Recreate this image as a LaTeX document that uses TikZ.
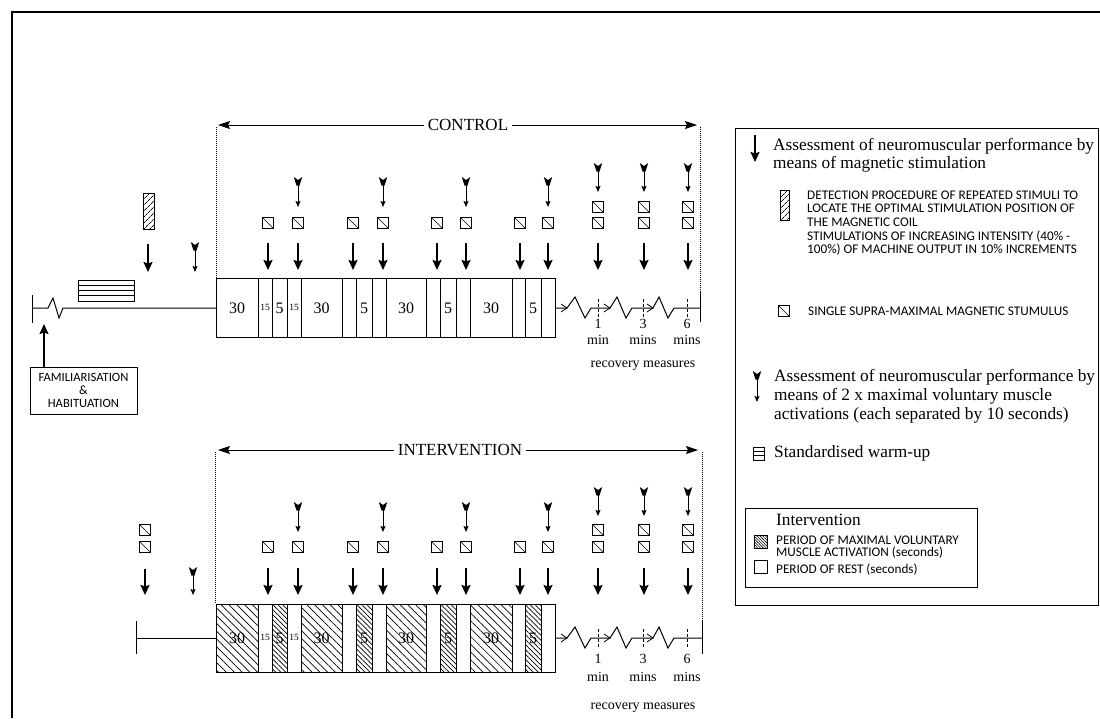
\documentclass[tikz,border=0pt]{standalone}
\usepackage{fontspec}
\setmainfont{Liberation Serif}
\newfontfamily\capsf{Carlito}
\usetikzlibrary{arrows.meta,patterns.meta}
\newcommand\Mbig[3]{\draw[bigarr] (#1,#2) -- (#1,#3);}
\newcommand\Mmvc[3]{\fill (#1-4.2,#2) -- (#1,#2+3) -- (#1+4.2,#2) -- (#1+1.5,#2+8.5) -- (#1-1.5,#2+8.5) -- cycle;
  \draw[mvcarr] (#1,#2+8) -- (#1,#3);}
\newcommand\Msq[2]{\draw[sqst] (#1-5.5,#2-5.5) rectangle (#1+5.5,#2+5.5);
  \draw[line width=0.6pt] (#1-5.5,#2-5.5) -- (#1+5.5,#2+5.5);}
\newcommand\Mrecov[4]{%
  \draw[tl] (555,#1) -- (567,#1) -- (575,#1-11) -- (585,#1+10) -- (591,#1) -- (610,#1) -- (617,#1-11) -- (626,#1+10) -- (632,#1) -- (653,#1) -- (659,#1-11) -- (668,#1+10) -- (674,#1) -- (#2,#1);
  \foreach \z in {567,610,653} \draw[line width=0.8pt] (\z-6,#1-4) -- (\z,#1) -- (\z-6,#1+4);
  \foreach \z in {598,643,687} \draw[line width=0.6pt,densely dashed] (\z,#1-9) -- (\z,#1+9);
  \draw[tl] (#2,#3) -- (#2,#4);}
\begin{document}
\begin{tikzpicture}[x=1pt,y=-1pt,
  bigarr/.style={line width=1.7pt,-{Stealth[length=10pt,width=9pt,inset=1.5pt]}},
  mvcarr/.style={line width=0.8pt,-{Stealth[length=6pt,width=5pt,inset=1pt]}},
  hdarr/.style={line width=0.9pt,-{Stealth[length=12pt,width=8pt,inset=2pt]}},
  sqst/.style={line width=0.9pt},
  tl/.style={line width=1pt},
  dotl/.style={line width=1pt,densely dotted},
  ttl/.style={font=\fontsize{17}{18}\selectfont,fill=white,inner xsep=4pt,inner ysep=1pt},
  num/.style={font=\fontsize{16}{16}\selectfont,inner sep=0pt},
  smallnum/.style={font=\fontsize{9.5}{10}\selectfont,inner sep=0pt},
  rec/.style={font=\fontsize{14}{14}\selectfont,inner sep=0pt,anchor=base},
  leg/.style={font=\fontsize{17.3}{18}\selectfont,inner sep=0pt,anchor=base west},
  caps/.style={font=\capsf\fontsize{13.2}{13}\selectfont,inner sep=0pt,anchor=base west},
  act/.style={pattern={Lines[angle=-45,distance=5.5pt,line width=0.7pt]}},
  actd/.style={pattern={Lines[angle=-45,distance=3.5pt,line width=0.7pt]}},
  probe/.style={pattern={Lines[angle=45,distance=4pt,line width=0.8pt]}},
]
\useasboundingbox (0,0) rectangle (1100,718);
% outer frame
\draw[line width=1.2pt] (12,718) -- (12,12) -- (1100,12);

% ================= CONTROL =================
\node[ttl] (ctrl) at (468,125) {CONTROL};
\draw[hdarr] (ctrl.west) -- (218,125);
\draw[hdarr] (ctrl.east) -- (697,125);
\draw[dotl] (216,127) -- (216,278);
\draw[dotl] (700,127) -- (700,292);

% pre-control
\draw[tl] (32,295) -- (32,323);
\draw[tl] (32,308) -- (48,308) -- (53,298) -- (59,318) -- (63,308) -- (216,308);
\draw[tl] (78,280) rectangle (134,301);
\foreach \yy in {285.25,290.5,295.75} \draw[line width=0.8pt] (78,\yy) -- (134,\yy);
\path[probe] (143,193) rectangle (154,229);
\draw[line width=0.9pt] (143,193) rectangle (154,229);
\Mbig{148}{244}{272}
\Mmvc{195}{242}{272}
\node[draw,line width=0.9pt,minimum width=107pt,minimum height=47pt,inner sep=0pt,align=center,
  font=\capsf\fontsize{12.6}{12.7}\selectfont] (fam) at (83.5,390.5) {FAMILIARISATION\\\&\\HABITUATION};
\coordinate (famtip) at (44,324);
\draw[bigarr] (fam.north -| famtip) -- (famtip);

% control box
\node[draw,tl,minimum width=339pt,minimum height=59pt,inner sep=0pt,anchor=north west] (cbox) at (216,278) {};
\foreach \x in {258,272,287,301,342,356,372,386,426,440,456,470,512,525,541} \draw[tl] (\x,278) -- (\x,337);
\foreach \x/\t [count=\i] in {237/30,321.5/30,406/30,491/30,279.5/5,364/5,448/5,533/5} \node[num] (cl\i) at (\x,308) {\t};
\foreach \x [count=\i] in {265,294} \node[smallnum] (cs\i) at (\x,307) {15};

% control markers
\foreach \x in {268,298,353,383,437,466,520,548} {\Msq{\x}{223} \Mbig{\x}{243}{270}}
\foreach \x in {298,383,466,548} {\Mmvc{\x}{177}{207}}
\foreach \x in {598,644,688} {\Mmvc{\x}{163}{192} \Msq{\x}{207} \Msq{\x}{223} \Mbig{\x}{243}{270}}

% control recovery
\Mrecov{308}{700}{292}{322}
\node[rec] (c1) at (598,328) {1};
\node[rec] (c1m) at (598,344) {min};
\node[rec] (c3) at (643,328) {3};
\node[rec] (c3m) at (643,344) {mins};
\node[rec] (c6) at (687,328) {6};
\node[rec] (c6m) at (687,344) {mins};
\node[rec] (crec) at (643,367) {recovery measures};

% ================= INTERVENTION =================
\node[ttl] (intv) at (460,450) {INTERVENTION};
\draw[hdarr] (intv.west) -- (218,450);
\draw[hdarr] (intv.east) -- (698,450);
\draw[dotl] (215,452) -- (215,604);
\draw[dotl] (702,452) -- (702,621);

% pre-intervention
\draw[tl] (136,621) -- (136,654);
\draw[tl] (136,638) -- (216,638);
\Msq{145}{530}
\Msq{145}{547}
\Mbig{145}{569}{595}
\Mmvc{193}{567}{595}

% intervention box
\foreach \a/\b in {216/258,301/342,386/426,470/512} \path[act] (\a,604) rectangle (\b,672);
\foreach \a/\b in {272/287,356/372,440/456,525/541} \path[actd] (\a,604) rectangle (\b,672);
\node[draw,tl,minimum width=339pt,minimum height=68pt,inner sep=0pt,anchor=north west] (ibox) at (216,604) {};
\foreach \x in {258,272,287,301,342,356,372,386,426,440,456,470,512,525,541} \draw[tl] (\x,604) -- (\x,672);
\foreach \x/\t [count=\i] in {237/30,321.5/30,406/30,491/30,279.5/5,364/5,448/5,533/5} \node[num] (il\i) at (\x,638) {\t};
\foreach \x [count=\i] in {265,294} \node[smallnum] (is\i) at (\x,637) {15};

% intervention markers
\foreach \x in {268,298,353,383,437,466,520,548} {\Msq{\x}{547} \Mbig{\x}{568}{595}}
\foreach \x in {298,383,466,548} {\Mmvc{\x}{502}{532}}
\foreach \x in {598,644,688} {\Mmvc{\x}{487}{516} \Msq{\x}{530} \Msq{\x}{547} \Mbig{\x}{568}{595}}

% intervention recovery
\Mrecov{638}{702}{621}{654}
\node[rec] (i1) at (598,663.5) {1};
\node[rec] (i1m) at (598,681.5) {min};
\node[rec] (i3) at (643,663.5) {3};
\node[rec] (i3m) at (643,681.5) {mins};
\node[rec] (i6) at (687,663.5) {6};
\node[rec] (i6m) at (687,681.5) {mins};
\node[rec] (irec) at (643,709) {recovery measures};

% ================= LEGEND =================
\node[draw,line width=1pt,minimum width=363pt,minimum height=477pt,inner sep=0pt,anchor=north west] (legend) at (735,128) {};
\Mbig{755}{135}{162}
\node[leg] (l1a) at (773,150) {Assessment of neuromuscular performance by};
\node[leg] (l1b) at (773,168) {means of magnetic stimulation};
\path[probe] (780,190) rectangle (789,220);
\draw[line width=0.9pt] (780,190) rectangle (789,220);
\node[caps] (l2a) at (807,199) {DETECTION PROCEDURE OF REPEATED STIMULI TO};
\node[caps] (l2b) at (807,212) {LOCATE THE OPTIMAL STIMULATION POSITION OF};
\node[caps] (l2c) at (807,226.5) {THE MAGNETIC COIL};
\node[caps] (l2d) at (807,240) {STIMULATIONS OF INCREASING INTENSITY (40\% -};
\node[caps] (l2e) at (807,253) {100\%) OF MACHINE OUTPUT IN 10\% INCREMENTS};
\Msq{784}{311}
\node[caps] (l3) at (808,315) {SINGLE SUPRA-MAXIMAL MAGNETIC STUMULUS};
\Mmvc{757}{371}{402}
\node[leg] (l4a) at (774,381.7) {Assessment of neuromuscular performance by};
\node[leg] (l4b) at (774,400) {means of 2 x maximal voluntary muscle};
\node[leg] (l4c) at (774,419) {activations (each separated by 10 seconds)};
\draw[line width=0.8pt] (753,447) rectangle (764,460);
\foreach \yy in {451.3,455.6} \draw[line width=0.7pt] (753,\yy) -- (764,\yy);
\node[leg] (l5) at (774,457.7) {Standardised warm-up};
\node[draw,line width=0.9pt,minimum width=232pt,minimum height=79pt,inner sep=0pt,anchor=north west] (ilegend) at (745,508) {};
\node[leg] (l6) at (776,525) {Intervention};
\path[pattern={Lines[angle=-45,distance=2pt,line width=0.6pt]}] (754,535) rectangle (767,548);
\draw[line width=0.8pt] (754,535) rectangle (767,548);
\node[caps] (l6a) at (776,544) {PERIOD OF MAXIMAL VOLUNTARY};
\node[caps] (l6b) at (776,556.7) {MUSCLE ACTIVATION (seconds)};
\draw[line width=0.8pt] (754,560) rectangle (767,573);
\node[caps] (l6c) at (776,573.3) {PERIOD OF REST (seconds)};
\end{tikzpicture}
\end{document}
